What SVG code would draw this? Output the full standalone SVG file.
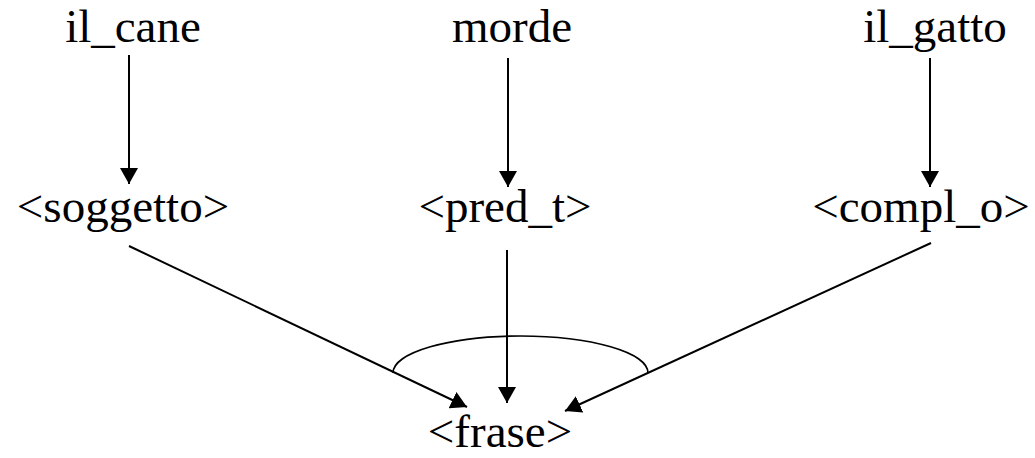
<svg xmlns="http://www.w3.org/2000/svg" width="1035" height="458" viewBox="0 0 1035 458">
<defs>
<style>
text{font-family:"Liberation Serif","Times New Roman",serif;font-size:47px;fill:#000;text-anchor:middle}
.e{stroke:#000;stroke-width:2;fill:none;marker-end:url(#ah)}
.arc{stroke:#000;stroke-width:1.6;fill:none}
</style>
<marker id="ah" markerUnits="userSpaceOnUse" markerWidth="17" markerHeight="18" refX="16" refY="9" orient="auto">
<path d="M0,0 L16,9 L0,18 z" fill="#000"/>
</marker>
</defs>
<rect width="1035" height="458" fill="#fff"/>
<g id="connectors">
<line class="e" x1="129" y1="55" x2="129" y2="184"/>
<line class="e" x1="508" y1="58" x2="508" y2="187"/>
<line class="e" x1="930" y1="58" x2="930" y2="187"/>
<line class="e" x1="129" y1="246" x2="467" y2="407"/>
<line class="e" x1="507" y1="250" x2="507" y2="403"/>
<line class="e" x1="931" y1="243" x2="565" y2="411"/>
<path class="arc" d="M393,373 A127.5,37 0 0 1 648,373"/>
</g>
<g id="il_cane"><text x="133" y="42">il_cane</text></g>
<g id="morde"><text x="512" y="42">morde</text></g>
<g id="il_gatto"><text x="935" y="42">il_gatto</text></g>
<g id="soggetto"><text x="123" y="222">&lt;soggetto&gt;</text></g>
<g id="pred_t"><text x="505" y="222">&lt;pred_t&gt;</text></g>
<g id="compl_o"><text x="921" y="222">&lt;compl_o&gt;</text></g>
<g id="frase"><text x="500" y="447">&lt;frase&gt;</text></g>
</svg>
